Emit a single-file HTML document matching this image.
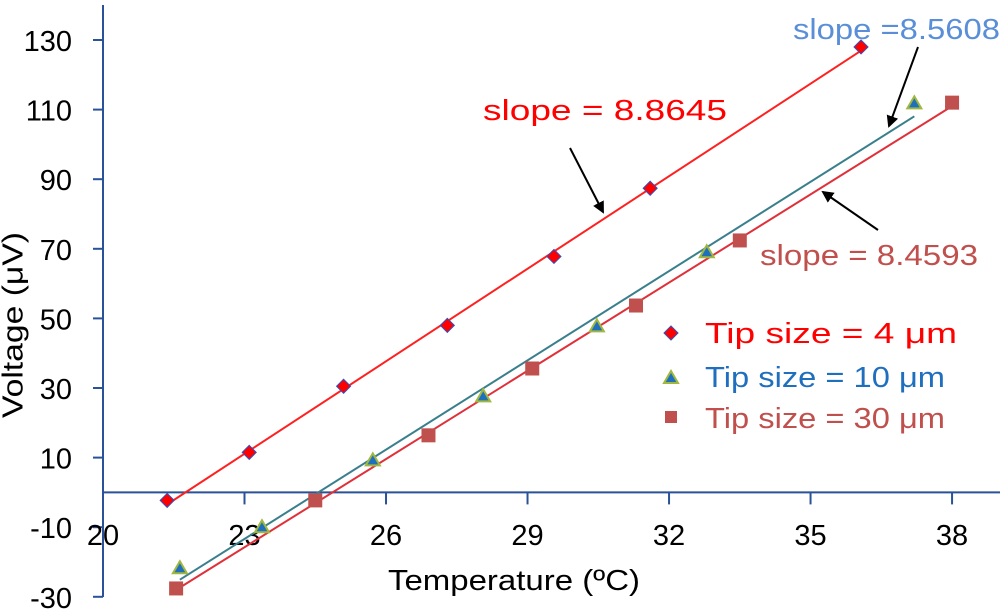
<!DOCTYPE html>
<html><head><meta charset="utf-8"><style>
html,body{margin:0;padding:0;background:#fff;}
svg{display:block;font-family:"Liberation Sans",Arial,sans-serif;}
</style></head><body>
<svg id="chart" width="1000" height="612" viewBox="0 0 1000 612">
<defs>
<marker id="ah" markerWidth="12" markerHeight="12" refX="10" refY="6" orient="auto" markerUnits="userSpaceOnUse">
<path d="M0,0 L12,6 L0,12 Z" fill="#000"/></marker>
</defs>
<g id="axes"></g>
<g id="lines"></g>
<g id="marks"></g>
<text x="15" y="325" font-size="29" text-anchor="middle" textLength="186" lengthAdjust="spacingAndGlyphs" dominant-baseline="middle" transform="rotate(-90 15 325)">Voltage (μV)</text>
<text x="388" y="590" font-size="29" textLength="252" lengthAdjust="spacingAndGlyphs">Temperature (ºC)</text>
<text x="483" y="120" font-size="29" fill="#ff0000" textLength="244" lengthAdjust="spacingAndGlyphs">slope = 8.8645</text>
<text x="793" y="39" font-size="29" fill="#5a8fd8" textLength="207" lengthAdjust="spacingAndGlyphs">slope =8.5608</text>
<text x="760" y="265" font-size="29" fill="#c0504d" textLength="218" lengthAdjust="spacingAndGlyphs">slope = 8.4593</text>
<line x1="570" y1="148" x2="603" y2="212" stroke="#000" stroke-width="2" marker-end="url(#ah)"/>
<line x1="918" y1="47" x2="889" y2="126" stroke="#000" stroke-width="2" marker-end="url(#ah)"/>
<line x1="878" y1="230" x2="823" y2="192" stroke="#000" stroke-width="2" marker-end="url(#ah)"/>
<g>
<path d="M671,326 L678,333 L671,340 L664,333 Z" fill="#ff0000" stroke="#3050c0" stroke-width="1"/>
<text x="705" y="343" font-size="29" fill="#ff0000" textLength="252" lengthAdjust="spacingAndGlyphs">Tip size = 4 μm</text>
<path d="M671,371 L678,383 L664,383 Z" fill="#1f6fbf" stroke="#a0b840" stroke-width="2"/>
<text x="705" y="387" font-size="29" fill="#1f6fbf" textLength="240" lengthAdjust="spacingAndGlyphs">Tip size = 10 μm</text>
<rect x="665" y="411" width="12" height="12" fill="#c0504d"/>
<text x="705" y="428" font-size="29" fill="#c0504d" textLength="240" lengthAdjust="spacingAndGlyphs">Tip size = 30 μm</text>
</g>
</svg>
<script>
const xTicks = [20, 23, 26, 29, 32, 35, 38];
const yTicks = [130, 110, 90, 70, 50, 30, 10, -10, -30];
const tempA = [21.36, 23.1, 25.1, 27.3, 29.56, 31.6, 36.07];
const voltA = [-2.3, 11.5, 30.5, 48, 67.8, 87.4, 128];
const tempB = [21.63, 23.37, 25.72, 28.06, 30.47, 32.8, 37.2];
const voltB = [-21.8, -10, 9.2, 27.6, 47.7, 69, 111.8];
const tempC = [21.55, 24.5, 26.9, 29.1, 31.3, 33.5, 38.0];
const voltC = [-27.6, -2.3, 16.4, 35.6, 53.7, 72.4, 112];

const NS = 'http://www.w3.org/2000/svg';
const X = t => 103 + (t - 20) * 47.17;
const Y = v => 40 + (130 - v) * 3.48;
function mk(tag, attrs, parent){ const e = document.createElementNS(NS, tag); for (const k in attrs) e.setAttribute(k, attrs[k]); parent.appendChild(e); return e; }

const axes = document.getElementById('axes');
const ax = '#2a5298';
let e = mk('line', {x1:103, y1:5, x2:103, y2:597, stroke:ax, 'stroke-width':2}, axes);


e = mk('line', {x1:103, y1:Y(0), x2:1000, y2:Y(0), stroke:ax, 'stroke-width':2}, axes);


yTicks.forEach(v => {
  const t = mk('line', {x1:93, y1:Y(v), x2:103, y2:Y(v), stroke:ax, 'stroke-width':2}, axes);
  
  
  const l = mk('text', {x:72, y:Y(v)+11, 'font-size':29, 'text-anchor':'end'}, axes);
  l.textContent = v;
  
  
});
xTicks.forEach(v => {
  const t = mk('line', {x1:X(v), y1:Y(0), x2:X(v), y2:Y(0)+12, stroke:ax, 'stroke-width':2}, axes);
  
  
  const l = mk('text', {x:X(v), y:545, 'font-size':29, 'text-anchor':'middle'}, axes);
  l.textContent = v;
  
  
});

const series = [
  {xs:tempA, ys:voltA, line:'#ff2020', shape:'diamond', name:'4um'},
  {xs:tempB, ys:voltB, line:'#3a7f8c', shape:'triangle', name:'10um'},
  {xs:tempC, ys:voltC, line:'#e0303a', shape:'square', name:'30um'}
];
const lines = document.getElementById('lines'), marks = document.getElementById('marks');
series.forEach(s => {
  const n = s.xs.length;
  const mx = s.xs.reduce((a,b)=>a+b)/n, my = s.ys.reduce((a,b)=>a+b)/n;
  let num=0, den=0;
  for (let i=0;i<n;i++){ num += (s.xs[i]-mx)*(s.ys[i]-my); den += (s.xs[i]-mx)**2; }
  const m = num/den, b = my - m*mx;
  const x0 = Math.min(...s.xs), x1 = Math.max(...s.xs);
  const ln = mk('line', {x1:X(x0), y1:Y(m*x0+b), x2:X(x1), y2:Y(m*x1+b), stroke:s.line, 'stroke-width':2}, lines);
  
  
  for (let i=0;i<n;i++){
    const px = X(s.xs[i]), py = Y(s.ys[i]);
    let p;
    if (s.shape==='diamond') p = mk('path', {d:`M${px},${py-7} L${px+7},${py} L${px},${py+7} L${px-7},${py} Z`, fill:'#ff0000', stroke:'#3050c0', 'stroke-width':1}, marks);
    else if (s.shape==='triangle') p = mk('path', {d:`M${px},${py-7} L${px+7},${py+5} L${px-7},${py+5} Z`, fill:'#1f6fbf', stroke:'#a0b840', 'stroke-width':2}, marks);
    else p = mk('rect', {x:px-7, y:py-7, width:14, height:14, fill:'#c0504d'}, marks);
    
    
  }
});
</script>
</body></html>
